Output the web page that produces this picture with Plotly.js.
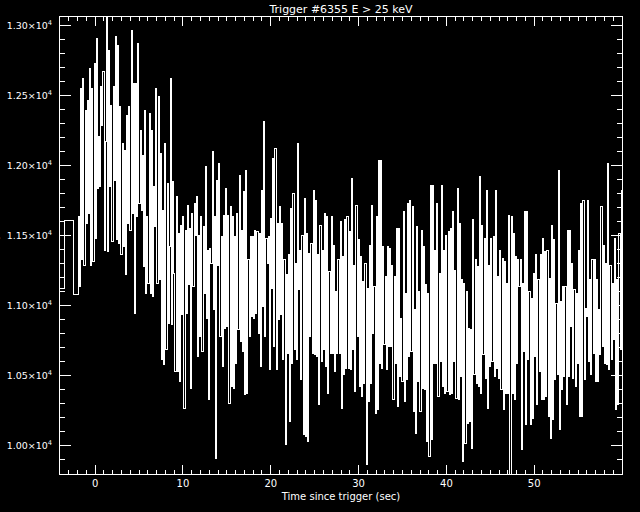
<!DOCTYPE html>
<html>
<head>
<meta charset="utf-8">
<script src="https://cdn.plot.ly/plotly-3.0.1.min.js"></script>
<style>
html,body{margin:0;padding:0;background:#000;}
#chart{width:640px;height:512px;}
#chart path.js-line, #chart path.xlines-above, #chart path.ylines-above, #chart path.xtick, #chart path.ytick { shape-rendering: crispEdges; }
</style>
</head>
<body>
<div id="chart"></div>
<script>
// Pre-trigger (coarse) bins: left edges (s) and rates (counts/s)
const preEdges = [-4.544, -3.52, -2.496];
const preRates = [11124, 11605, 11081];

// Post-trigger fine bins start at -1.92 s, width 0.128 s
const fineStart = -1.92;
const binWidth = 0.128;

const ratesA = [11635,11135,12552,11326,12624,11290,12397,11588,12469,11659,12695,11290,12552,11314,12731,11481,12909,11838,12207,11850,12564,12290,12671,11397,12171,13120,11385,12826,11850,12433,11457,12564,11897,12921,11469,12862,11445,12421,11362,12159,11421,12112,11219,12362,11588,12421,11540,12969,11659,12588,10945,12588,11635,12874,11731,12255,11683,12076,11278,12397,11088,11635,11159,12374,11088,12255,11064,11850,11564,12552,11159,12493,11183,12088,10612,11683,10576,12159,10683,11874,10874,11421];
const ratesB = [12624,10862,11885,11231,10528,11778,10528,11516,10457,11576,10933,11635,10266,11540,10945,11719,11147,11552,10409,11659,11135,11731,11504,11778,10635,11504,10778,11635,10671,11564,11088,11993,10909,11397,10326,11409,11302,12100,10969,11635,9909,11897,11290,12016,10778,11493,10564,11647,10838,11838,10850,11647,10302,11707,10421,11635,10409,11493,10588,11659,10826,11933,10743,11540,10671,11814,10362,11969,10374,11326,10778,11493,10921,11493,10909,11540,10945,11528,10802,11516,10564,11826,10993,12314];
const ratesC = [10778,11481,11302,11493,10540,11624,11124,12052,10707,12124,10540,11588,10897,11707,10933,11588,10612,11326,10005,11219,10659,11362,10171,11695,10588,11802,10683,11302,10612,12159,11112,11397,10469,11504,10076,11766,10064,11516,10028,11373,10778,11445,10659,11826,10647,11755,10635,11362,10290,11576,10600,11397,10683,11659,10564,11635,10374,11243,10659,11635,10659,11433,10528,11100,10659,11326,10659,11600,10266,11350,10505,11612,10552,11635,10552,11528,10540,11909,10683,11290,10385,11719,10778,11469];
const ratesD = [10421,11350,10350,11171,10445,11302,9862,11124,10314,11433,10445,11719,10802,11135,10231,11635,10254,12040,10588,12040,10552,11421,10719,11207,10540,11421,10707,11409,10707,11290,10326,11207,10588,11552,10278,11552,10493,10909,10457,11671,10314,11088,10469,11731,10635,11755,10671,11707,10243,10969,10088,11564,10457,11100,10243,11540,10409,11421,10397,11147,10028,11088,9921,11862,10040,11862,10588,11397,10588,11731,10350,11231,10600,11862,10421,11397,10374,11504,10385,11528,10362,11552,10374,11671];
const ratesE = [10600,11254,10338,11838,10326,11588,10493,11183,9885,11159,10016,11100,10159,10838,10171,10826,9981,11612,10505,11326,10445,11278,10421,11921,10374,11576,10647,11481,10481,11826,10266,11290,10564,11481,10600,11493,10493,11826,10552,11207,10481,11397,10397,11338,10254,11314,10374,11159,10374,11647,9780,11635,10374,11516,10326,11350,10588,11326,11135,11326,9969,11159,10671,11671,10147,11671,10612,11100,10147,11052,10195,11231,10635,11362,10290,11183,10528,11362,10326,11481,10326,11385,10350,11397];
const ratesF = [10207,11195,10052,11576,10183,11469,10469,11016,10505,11969,10112,11028,10397,11135,10493,11135,10290,11540,10493,11540,10850,11302,10481,11112,10421,11088,10588,11397,10207,11731,10207,11755,10469,10981,10921,11755,10600,11183,10505,11326,10659,11326,10457,11183,10457,10969,10647,11707,10707,11433,10588,11302,10576,12016,10540,11290,10612,11159,10755,11481,10255,11183,10290,11516,10683,11826,10683,11790];

const yTickVals = [10000, 10500, 11000, 11500, 12000, 12500, 13000];
const yTickText = ["1.00×10<sup>4</sup>","1.05×10<sup>4</sup>","1.10×10<sup>4</sup>","1.15×10<sup>4</sup>","1.20×10<sup>4</sup>","1.25×10<sup>4</sup>","1.30×10<sup>4</sup>"];
const xTickVals = [0, 10, 20, 30, 40, 50];

const fineRates = [].concat(ratesA, ratesB, ratesC, ratesD, ratesE, ratesF);
const xs = preEdges.slice();
const ys = preRates.slice();
fineRates.forEach((v, i) => { xs.push(fineStart + i * binWidth); ys.push(v); });
xs.push(fineStart + fineRates.length * binWidth);
ys.push(fineRates[fineRates.length - 1]);

const fontFam = "DejaVu Sans, sans-serif";
const trace = {
  x: xs, y: ys, type: 'scatter', mode: 'lines',
  line: {shape: 'hv', color: '#ffffff', width: 1}, hoverinfo: 'skip'
};

const axisCommon = {
  showgrid: false, zeroline: false, showline: true, linecolor: '#ffffff', linewidth: 1,
  mirror: 'ticks', ticks: 'inside', tickcolor: '#ffffff', tickwidth: 1,
  tickfont: {family: fontFam, size: 10, color: '#ffffff'}
};

const layout = {
  width: 640, height: 512,
  paper_bgcolor: '#000000', plot_bgcolor: '#000000',
  margin: {l: 60, r: 18, t: 17, b: 38},
  showlegend: false,
  title: {text: 'Trigger #6355 E > 25 keV', x: 0.5, xref: 'paper', y: 0.982, yanchor: 'middle',
          font: {family: fontFam, size: 11, color: '#ffffff'}},
  xaxis: Object.assign({}, axisCommon, {
    range: [-4, 60], tickmode: 'array', tickvals: xTickVals, ticklen: 9,
    minor: {dtick: 1, ticklen: 4, ticks: 'inside', tickcolor: '#ffffff', tickwidth: 1, showgrid: false},
    title: {text: 'Time since trigger (sec)', standoff: 4, font: {family: fontFam, size: 10, color: '#ffffff'}}
  }),
  yaxis: Object.assign({}, axisCommon, {
    range: [9795, 13064], tickmode: 'array', tickvals: yTickVals, ticktext: yTickText, ticklen: 11,
    ticklabelstandoff: 5,
    tickfont: {family: fontFam, size: 9.5, color: '#ffffff'},
    minor: {dtick: 100, tick0: 0, ticklen: 5, ticks: 'inside', tickcolor: '#ffffff', tickwidth: 1, showgrid: false}
  }),
  annotations: [{
    text: 'Counts/sec', xref: 'paper', yref: 'paper', x: -0.1139, y: 0.5, xanchor: 'center', yanchor: 'middle',
    textangle: -90, showarrow: false, font: {family: fontFam, size: 10, color: '#ffffff'}
  }]
};

Plotly.newPlot('chart', [trace], layout, {displayModeBar: false, staticPlot: true});
</script>
</body>
</html>
